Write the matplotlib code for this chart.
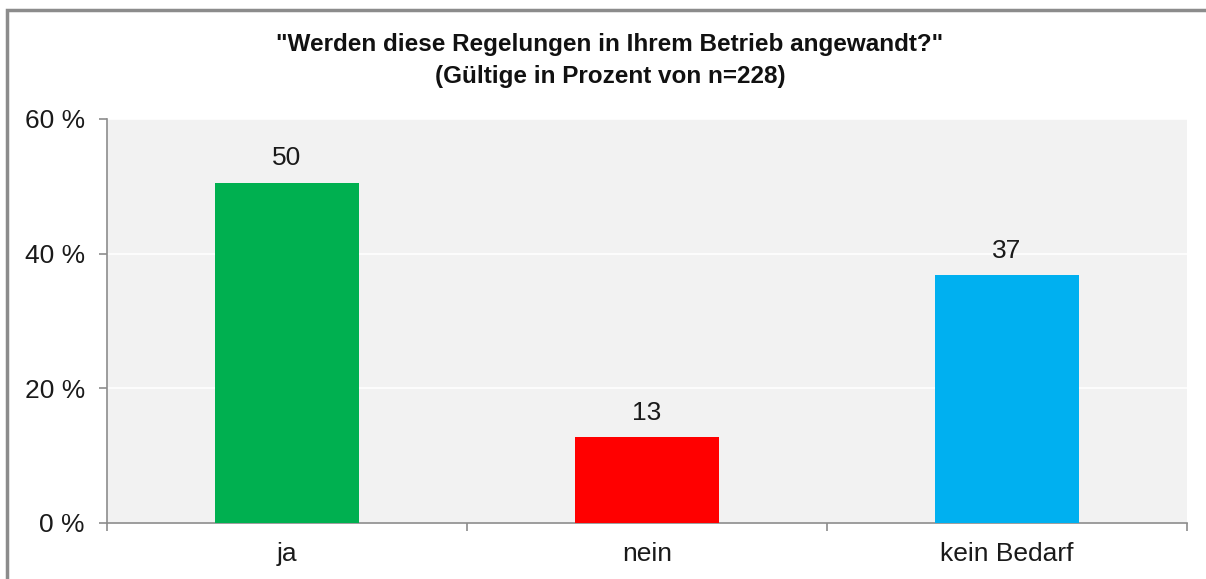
import matplotlib.pyplot as plt
import numpy as np
from matplotlib.patches import Rectangle

categories = ["ja", "nein", "kein Bedarf"]
values = [50.5, 12.7, 36.8]
value_labels = ["50", "13", "37"]
colors = ["#00b050", "#ff0000", "#00b0f0"]
yticks = [0, 20, 40, 60]
title = '"Werden diese Regelungen in Ihrem Betrieb angewandt?"\n(Gültige in Prozent von n=228)'

plt.rcParams["font.family"] = ["Liberation Sans", "DejaVu Sans"]

fig = plt.figure(figsize=(12.06, 5.79), dpi=100)
W, H = 1206, 579

# outer chart frame (cropped on right and bottom)
fig.patches.append(Rectangle((7 / W, -0.05), 1.2, 1 - 10 / H + 0.05,
                             transform=fig.transFigure, fill=False,
                             edgecolor="#8c8c8c", linewidth=2.5))

ax = fig.add_axes([107 / W, 1 - 523 / H, (1187 - 107) / W, (523 - 119) / H])
ax.set_facecolor("#f2f2f2")

x = np.arange(len(categories))
ax.bar(x, values, width=0.4, color=colors, zorder=3)
for xi, v, lab in zip(x, values, value_labels):
    ax.annotate(lab, (xi, v), xytext=(0, 9), textcoords="offset points",
                ha="center", va="bottom", fontsize=19, color="#1a1a1a")

ax.set_xlim(-0.5, len(categories) - 0.5)
ax.set_ylim(0, 60)
ax.set_yticks(yticks)
ax.set_yticklabels([f"{t} %" for t in yticks])
ax.yaxis.grid(True, color="white", linewidth=1.2, zorder=0)

ax.set_xticks(x)
ax.set_xticklabels(categories)
ax.set_xticks(np.arange(len(categories) + 1) - 0.5, minor=True)
ax.tick_params(axis="x", which="major", length=0, pad=14, labelsize=19,
               labelcolor="#1a1a1a")
ax.tick_params(axis="x", which="minor", length=6, color="#8c8c8c", width=1.2)
ax.tick_params(axis="y", length=6, color="#8c8c8c", width=1.2, pad=10,
               labelsize=19, labelcolor="#1a1a1a")

for side in ["top", "right"]:
    ax.spines[side].set_visible(False)
for side in ["left", "bottom"]:
    ax.spines[side].set_color("#8c8c8c")
    ax.spines[side].set_linewidth(1.2)

fig.text(610 / W, 1 - 60 / H, title, ha="center", va="center", fontsize=17.5,
         fontweight="bold", linespacing=1.5, color="#111111")

fig.savefig("out.png", dpi=100)
